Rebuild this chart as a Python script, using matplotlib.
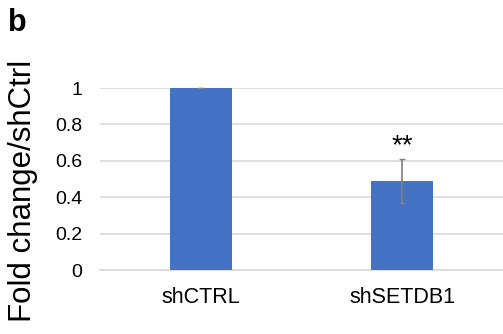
import matplotlib.pyplot as plt

plt.rcParams['font.family'] = ['Liberation Sans', 'DejaVu Sans']

groups = ['shCTRL', 'shSETDB1']
fold_change = [1.0, 0.489]
fold_err = [0.002, 0.121]
yticks = [0, 0.2, 0.4, 0.6, 0.8, 1]
ytick_labels = ['0', '0.2', '0.4', '0.6', '0.8', '1']
stars = ['', '**']

fig = plt.figure(figsize=(5.03, 3.34), dpi=100)
ax = fig.add_axes([0.199, 0.1916, 0.801, 0.5449])

x = list(range(len(groups)))
ax.bar(x, fold_change, width=0.31, color='#4472C4', zorder=3)
ax.errorbar(x, fold_change, yerr=fold_err, fmt='none', ecolor='#808080',
            elinewidth=1.2, capsize=2.5, capthick=1, zorder=4, clip_on=False)

for xi, v, e, s in zip(x, fold_change, fold_err, stars):
    if s:
        ax.text(xi, v + e + 0.0, s, ha='center', va='bottom', fontsize=20)

ax.set_xlim(-0.5, 1.5)
ax.set_ylim(0, 1)
ax.set_yticks(yticks)
ax.set_yticklabels(ytick_labels)
ax.set_xticks(x)
ax.set_xticklabels(groups)
ax.tick_params(axis='y', length=0, labelsize=14, pad=13)
ax.tick_params(axis='x', length=0, labelsize=15.5, pad=12)
ax.grid(axis='y', color='#d9d9d9', linewidth=1.2, zorder=0)
ax.set_axisbelow(True)
for side in ['top', 'right', 'left']:
    ax.spines[side].set_visible(False)
ax.spines['bottom'].set_color('#d9d9d9')
ax.spines['bottom'].set_linewidth(1.2)

fig.text(0.045, 0.43, 'Fold change/shCtrl', rotation=90, ha='center', va='center',
         fontsize=22.5)
fig.text(0.016, 0.975, 'b', ha='left', va='top', fontsize=22, fontweight='bold')

fig.savefig('out.png', dpi=100)
